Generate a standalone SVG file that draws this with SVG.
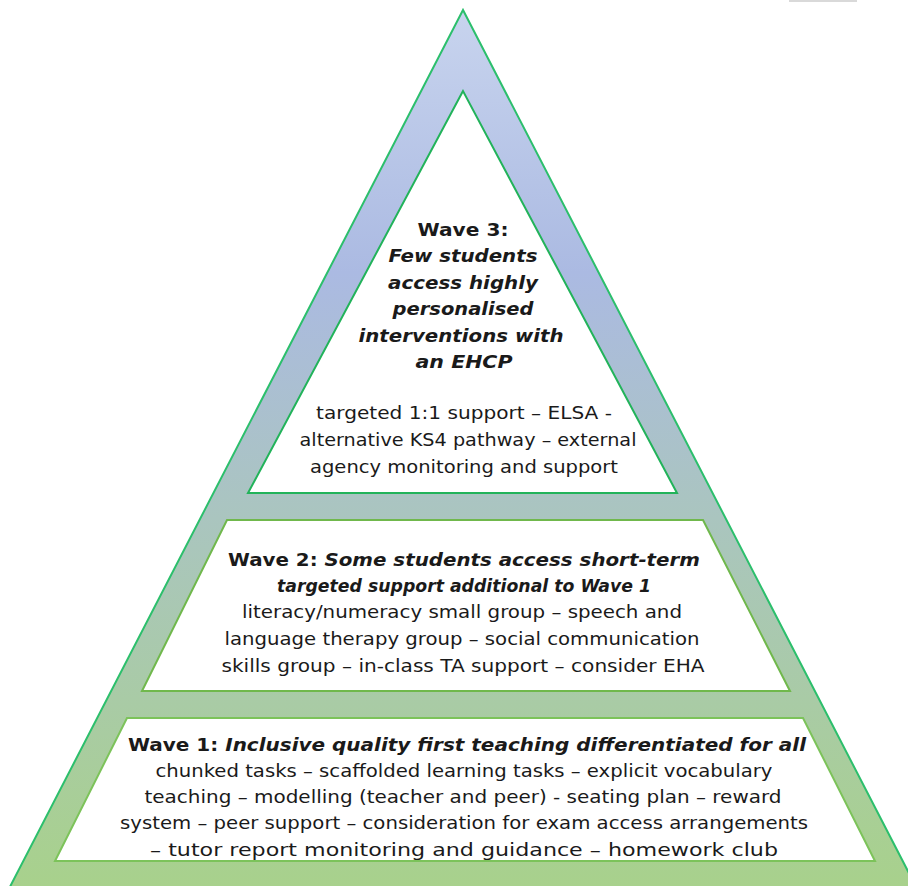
<svg xmlns="http://www.w3.org/2000/svg" width="908" height="886" viewBox="0 0 908 886">
<defs>
<linearGradient id="bg" x1="0" y1="10" x2="0" y2="886" gradientUnits="userSpaceOnUse">
<stop offset="0" stop-color="#c8d4ee"/>
<stop offset="0.3" stop-color="#abbae2"/>
<stop offset="0.58" stop-color="#aac5bf"/>
<stop offset="1" stop-color="#a8d18c"/>
</linearGradient>
<style>
.t{font-family:"DejaVu Sans","Liberation Sans",sans-serif;font-size:18px;fill:#1a1a1a;text-anchor:middle}
.b{font-weight:bold}
.i{font-weight:bold;font-style:italic}
.box{fill:#ffffff;stroke-width:2}
</style>
</defs>
<rect width="908" height="886" fill="#ffffff"/>
<rect x="789" y="0" width="68" height="2" fill="#d9d9d9"/>
<g id="pyramid">
<polygon points="463,10 -2,910 928,910" fill="url(#bg)" stroke="#2cbf6c" stroke-width="2"/>
</g>
<g id="wave3">
<polygon class="box" points="463,91 248,493 677,493" stroke="#22b35a"/>
<text class="t b" x="463" y="236" textLength="91" lengthAdjust="spacingAndGlyphs">Wave 3:</text>
<text class="t i" x="463" y="262" textLength="149" lengthAdjust="spacingAndGlyphs">Few students</text>
<text class="t i" x="463" y="289" textLength="150" lengthAdjust="spacingAndGlyphs">access highly</text>
<text class="t i" x="463" y="315" textLength="141" lengthAdjust="spacingAndGlyphs">personalised</text>
<text class="t i" x="461" y="342" textLength="205" lengthAdjust="spacingAndGlyphs">interventions with</text>
<text class="t i" x="464" y="368" textLength="97" lengthAdjust="spacingAndGlyphs">an EHCP</text>
<text class="t" x="464" y="419" textLength="296" lengthAdjust="spacingAndGlyphs">targeted 1:1 support – ELSA -</text>
<text class="t" x="468" y="446" textLength="337" lengthAdjust="spacingAndGlyphs">alternative KS4 pathway – external</text>
<text class="t" x="464" y="473" textLength="308" lengthAdjust="spacingAndGlyphs">agency monitoring and support</text>
</g>
<g id="wave2">
<polygon class="box" points="227,520 703,520 790,691 142,691" stroke="#70b84c"/>
<text class="t" x="464" y="566" textLength="472" lengthAdjust="spacingAndGlyphs"><tspan class="b">Wave 2: </tspan><tspan class="i">Some students access short-term</tspan></text>
<text class="t i" x="464" y="592" textLength="374" lengthAdjust="spacingAndGlyphs">targeted support additional to Wave 1</text>
<text class="t" x="462" y="618" textLength="440" lengthAdjust="spacingAndGlyphs">literacy/numeracy small group – speech and</text>
<text class="t" x="462" y="645" textLength="475" lengthAdjust="spacingAndGlyphs">language therapy group – social communication</text>
<text class="t" x="463" y="672" textLength="483" lengthAdjust="spacingAndGlyphs">skills group – in-class TA support – consider EHA</text>
</g>
<g id="wave1">
<polygon class="box" points="127,718 803,718 875,861 55,861" stroke="#7cc35a"/>
<text class="t" x="467" y="751" textLength="678" lengthAdjust="spacingAndGlyphs"><tspan class="b">Wave 1: </tspan><tspan class="i">Inclusive quality first teaching differentiated for all</tspan></text>
<text class="t" x="464" y="777" textLength="617" lengthAdjust="spacingAndGlyphs">chunked tasks – scaffolded learning tasks – explicit vocabulary</text>
<text class="t" x="463" y="803" textLength="637" lengthAdjust="spacingAndGlyphs">teaching – modelling (teacher and peer) - seating plan – reward</text>
<text class="t" x="464" y="829" textLength="688" lengthAdjust="spacingAndGlyphs">system – peer support – consideration for exam access arrangements</text>
<text class="t" x="464" y="856" textLength="628" lengthAdjust="spacingAndGlyphs">– tutor report monitoring and guidance – homework club</text>
</g>
</svg>
